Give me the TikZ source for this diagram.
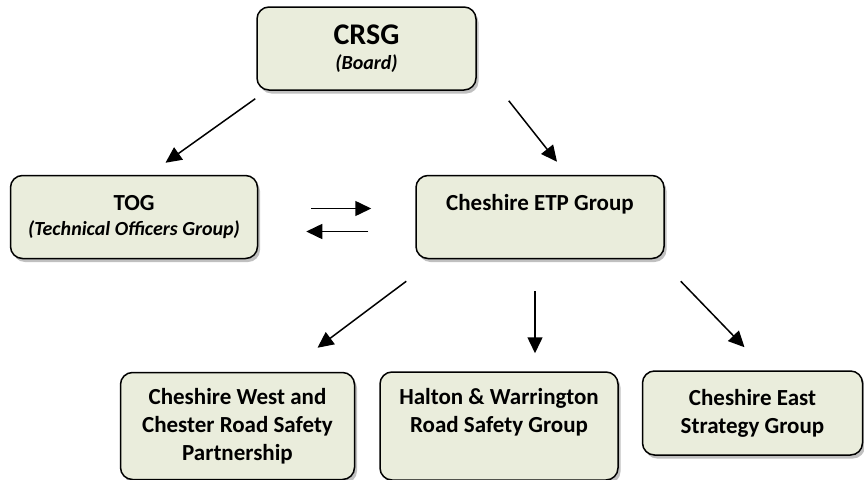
\documentclass[tikz,border=0pt]{standalone}
\usepackage{fontspec}
\setmainfont{Carlito}
\usetikzlibrary{arrows.meta,positioning,shadows}
\definecolor{groupBeige}{RGB}{234,237,220}
\colorlet{softbeige}{groupBeige}

\begin{document}
\begin{tikzpicture}[x=1pt,y=1pt,>={Triangle[length=16pt,width=15pt]},line width=1.5pt,
  group/.style={draw,rounded corners=12pt,fill=softbeige,align=center,inner sep=2pt,
    font=\fontsize{23}{28}\selectfont\bfseries,
    drop shadow={shadow xshift=2.5pt,shadow yshift=-3.5pt,fill=black!45,opacity=0.55}}]
\useasboundingbox (0,0) rectangle (864,-479);
\node[group,minimum width=219pt,minimum height=83pt] (crsg) at (366.5,-48.5)
  {{\fontsize{30}{30}\selectfont CRSG}\\[-3pt]{\fontsize{20}{24}\selectfont\itshape (Board)}};
\node[group,minimum width=247pt,minimum height=83pt,below left=84pt and -2pt of crsg] (tog)
  {TOG\\[-3pt]{\fontsize{20}{24}\selectfont\itshape (Technical Officers Group)}};
\node[group,minimum width=248pt,minimum height=83pt,right=157pt of tog] (etp)
  {Cheshire ETP Group\\[-8pt]\strut};
\node[group,minimum width=238pt,minimum height=108pt,below=112pt of etp.south,xshift=-41pt] (hw)
  {Halton \& Warrington\\Road Safety Group\\[-6pt]\strut};
\node[group,minimum width=234pt,minimum height=107pt,left=24pt of hw] (cwc)
  {Cheshire West and\\Chester Road Safety\\Partnership};
\node[group,minimum width=220pt,minimum height=84pt,below right=-1pt and 23pt of hw.north east] (ce)
  {Cheshire East\\Strategy Group};
\draw[->] ([shift={(-1,-8)}]crsg.south west) -- ([shift={(31.5,12)}]tog.north);
\draw[->] ([shift={(32,-10)}]crsg.south east) -- ([shift={(17,13)}]etp.north);
\draw[->] ([shift={(53,8.5)}]tog.east) -- ([shift={(-44,8.5)}]etp.west);
\draw[->] ([shift={(-47,-14.5)}]etp.west) -- ([shift={(48,-14.5)}]tog.east);
\draw[->] ([shift={(-9,-22)}]etp.south west) -- ([shift={(80,24)}]cwc.north);
\draw[->] ([shift={(-5,-32)}]etp.south) -- ([shift={(36,18)}]hw.north);
\draw[->] ([shift={(16,-22)}]etp.south east) -- ([shift={(-8,23)}]ce.north);
\end{tikzpicture}
\end{document}
